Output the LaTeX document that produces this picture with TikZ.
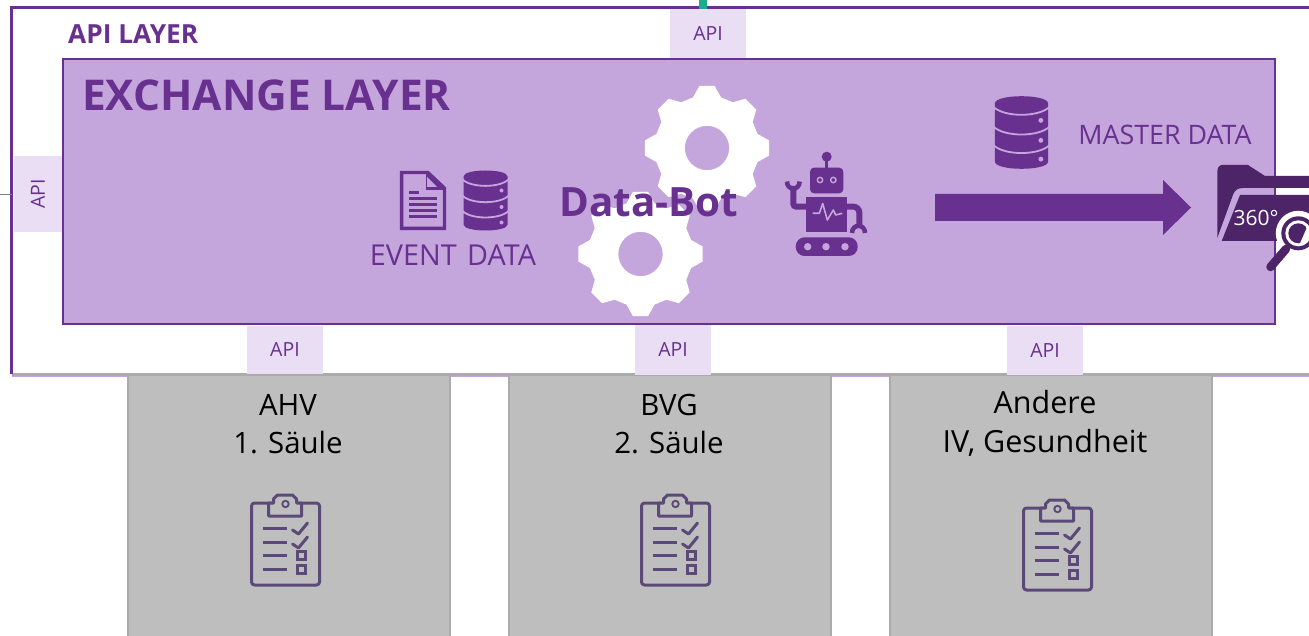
\documentclass[tikz,border=0pt]{standalone}
\usepackage{fontspec}
\setmainfont{Open Sans}
\definecolor{pur}{HTML}{68318F}
\definecolor{exch}{HTML}{C4A5DC}
\definecolor{tab}{HTML}{EADEF5}
\definecolor{grybox}{HTML}{BEBEBE}
\definecolor{gryline}{HTML}{ABABAB}
\definecolor{dark}{HTML}{4E2469}
\definecolor{clipc}{HTML}{5B4A78}
\definecolor{tealc}{HTML}{1FAB89}
\newcommand{\fpx}[1]{\fontsize{#1}{#1}\selectfont}
\newcommand{\gearat}[2]{%
 \fill[white,even odd rule] ([shift={#1}]-15.5:#2*0.84)
 \foreach \a in {0,45,...,315}{ -- ([shift={#1}]\a-15.5:#2*0.84) -- ([shift={#1}]\a-7:#2) -- ([shift={#1}]\a+7:#2) -- ([shift={#1}]\a+15.5:#2*0.84)} -- cycle
 #1 circle (#2*0.355);}
\tikzset{
 apitab/.style={fill=tab,draw=none,text=pur,inner sep=0pt,outer sep=0pt,font=\fpx{19.5}},
 sbox/.style={fill=grybox,draw=gryline,line width=1.6pt,inner sep=0pt,outer sep=0pt},
 grytxt/.style={text=black,align=center,font=\fpx{30.5},inner sep=0pt},
 pics/clipboard/.style={code={
  \begin{scope}[draw=clipc,line width=3pt,line cap=round,line join=round]
   \draw[rounded corners=3pt] (-34,-41) rectangle (34,41);
   \draw[fill=grybox] (-17,-41) -- (-17,-28) -- (16,-28) -- (16,-41) -- (11,-41) -- (11,-45) -- (7,-49) -- (-8,-49) -- (-12,-45) -- (-12,-41) -- cycle;
   \draw[line width=1.9pt] (0,-40) circle (3.2);
   \foreach \y in {-16,-2,11,25}{\draw[line cap=butt] (-23,\y) -- (1,\y);}
   \foreach \y in {-14,0}{\draw (7,\y) -- (13,\y+4) -- (22,\y-7);}
   \draw[line cap=butt,line join=miter] (11.5,7.5) rectangle (19.5,15.5);
   \draw[line cap=butt,line join=miter] (11.5,21.5) rectangle (19.5,29.5);
  \end{scope}}},
 pics/dbicon/.style={code={
  \fill[pur] (-22,-24) .. controls (-22,-32) and (22,-32) .. (22,-24) -- (22,24) .. controls (22,32) and (-22,32) .. (-22,24) -- cycle;
  \foreach \y in {-21,-4.7,10.6}{\draw[exch,line width=1.8pt] (-23,\y) .. controls (-14,\y+8.5) and (14,\y+8.5) .. (23,\y);}
  \foreach \y in {-10,6.5,22}{\fill[exch] (16,\y) circle (2);}
 }}
}
\begin{document}
\begin{tikzpicture}[x=1pt,y=-1pt]
\useasboundingbox (0,0) rectangle (1309,636);
\clip (0,0) rectangle (1309,636);
\fill[white] (0,0) rectangle (1309,636);
\coordinate (ext) at (0,194);
\coordinate (leftmid) at (12,194);
\draw[exch,line width=.8pt] (12,376.6) -- (1309,376.6);
% grey service boxes
\node[sbox,minimum width=322pt,minimum height=280pt,anchor=north west] (ahv) at (128,375) {};
\node[sbox,minimum width=322pt,minimum height=280pt,anchor=north west] (bvg) at (509,375) {};
\node[sbox,minimum width=322pt,minimum height=280pt,anchor=north west] (and) at (890,375) {};
\node[grytxt,font=\fpx{29.4}] (t1) at (288,424.5) {AHV\\[8.5pt]1. Säule};
\node[grytxt,font=\fpx{29.4}] (t2) at (669,424.5) {BVG\\[8.5pt]2. Säule};
\node[grytxt] (t3) at (1045,423.5) {Andere\\[8pt]IV, Gesundheit};
\pic at (285.5,544) {clipboard};
\pic at (675.5,544) {clipboard};
\pic at (1057.5,549) {clipboard};
% API layer
\draw[gryline,line width=2.6pt] (12,374.5) -- (1309,374.5);
\draw[pur,line width=2.7pt] (1320,7.5) -- (11.5,7.5) -- (11.5,374);
\node[fill=tealc,minimum width=8pt,minimum height=12pt,inner sep=0pt,outer sep=0pt,anchor=north] (tealbar) at (703,0) {};
\draw[gray,line width=.9pt] (ext) -- (leftmid);
\node[anchor=west,text=pur,font=\fpx{26.3}\bfseries,inner sep=0pt] (apil) at (68,34) {API LAYER};
% tabs
\node[apitab,minimum width=76pt,minimum height=49pt,anchor=north west] (a1) at (670,9) {\raisebox{-2pt}{API}};
\node[apitab,minimum width=48pt,minimum height=76pt,anchor=north west] (a2) at (14,156) {\rotatebox{90}{API}};
\node[apitab,minimum width=76pt,minimum height=48pt,anchor=north west] (a3) at (247,326) {\raisebox{-2pt}{API}};
\node[apitab,minimum width=76pt,minimum height=49pt,anchor=north west] (a5) at (1007,326) {\raisebox{-2pt}{API}};
% exchange
\node[fill=exch,draw=pur,line width=2.7pt,minimum width=1212pt,minimum height=265pt,anchor=north west,inner sep=0pt,outer sep=0pt] (ex) at (63,59) {};
\node[apitab,minimum width=76pt,minimum height=50pt,anchor=north west] (a4) at (635,324.5) {\raisebox{-2pt}{API}};
\node[anchor=west,text=pur,font=\fpx{42.4}\bfseries,inner sep=0pt] (exl) at (82,95.5) {EXCHANGE LAYER};
% gears
\gearat{(707,148)}{62.5}
\gearat{(640.5,254)}{62.5}
\node[text=pur,font=\fpx{40.4}\bfseries,inner sep=0pt] (bot) at (649,202) {Data-Bot};
% document icon
\draw[pur,line width=3.3pt,miter limit=6] (401.6,172.6) -- (428,172.6) -- (444.4,188) -- (444.4,228.4) -- (401.6,228.4) -- cycle;
\fill[pur] (426,171) -- (446,190) -- (426,190) -- cycle;
\fill[exch] (427,177) -- (437,187) -- (427,187) -- cycle;
\fill[pur] (409,191.5) rectangle (419,194.5);
\foreach \y in {197.5,203.5,209.5,215.5}{\fill[pur] (409,\y) rectangle (437,\y+3);}
\pic at (485.5,200.5) {dbicon};
\node[text=pur,font=\fpx{28.8},inner sep=0pt] (ev) at (453,255) {EVENT\hspace{3pt} DATA};
% robot
\fill[pur] (826.7,156.7) circle (5);
\draw[pur,line width=3pt] (826.7,158) -- (826.7,169);
\fill[pur,rounded corners=4pt] (810,167.7) rectangle (843.3,193.3);
\foreach \x in {820,833.3}{\draw[exch,line width=1.4pt] (\x,180) circle (2.7);}
\fill[pur] (806,196.7) rectangle (847.3,232.3);
\draw[pur,line width=6pt,rounded corners=3pt] (806,206.7) -- (793.3,206.7) -- (793.3,186);
\draw[pur,line width=6pt,rounded corners=6pt] (847,206.7) -- (859.3,206.7) -- (859.3,225);
\draw[pur,line width=4.5pt] (787,181.5) .. controls (787,191) and (799.6,191) .. (799.6,181.5);
\draw[pur,line width=4.5pt] (852,233) .. controls (852,223.5) and (865,223.5) .. (865,233);
\fill[pur,rounded corners=9pt] (795.7,237.3) rectangle (857.7,256);
\foreach \x in {807.7,826,845}{\fill[exch] (\x,246.7) circle (3.7);}
\draw[exch,line width=1.6pt,line join=round] (812.7,213.3) -- (819.3,213.3) -- (822.7,203.5) -- (827.3,220) -- (833.3,210) -- (835.7,215) -- (842.3,213.3);
% big arrow
\fill[pur] (935,194) -- (1163,194) -- (1163,180) -- (1191,207.5) -- (1163,235) -- (1163,221) -- (935,221) -- cycle;
% master data
\pic[scale=1.21] at (1021.5,132.5) {dbicon};
\node[text=pur,font=\fpx{26.8},inner sep=0pt] (ms) at (1165,135) {MASTER DATA};
% folder
\fill[dark] (1217.3,172) -- (1217.3,238) -- (1233.3,194) .. controls (1235,190) and (1238,188) .. (1243,188) -- (1320,188) -- (1320,176) -- (1265,176) -- (1248,165) -- (1222,165) .. controls (1219,165) and (1217.3,168) .. (1217.3,172) -- cycle;
\fill[dark] (1240,195) -- (1320,195) -- (1320,241) -- (1221.7,241) -- cycle;
\node[text=white,font=\fpx{21},inner sep=0pt] (deg) at (1256,218) {360°};
% magnifier
\fill[white] (1298.3,233.3) circle (22.5);
\fill[dark] (1298.3,233.3) circle (17);
\fill[white] (1298.3,233.3) circle (13);
\begin{scope}
 \clip (1298.3,233.3) circle (10);
 \fill[dark] (1285,220) -- (1310,220) -- (1297,250) -- (1285,250) -- cycle;
\end{scope}
\draw[dark,line width=8.5pt,line cap=round] (1286,249) -- (1270.5,267);
\end{tikzpicture}
\end{document}
